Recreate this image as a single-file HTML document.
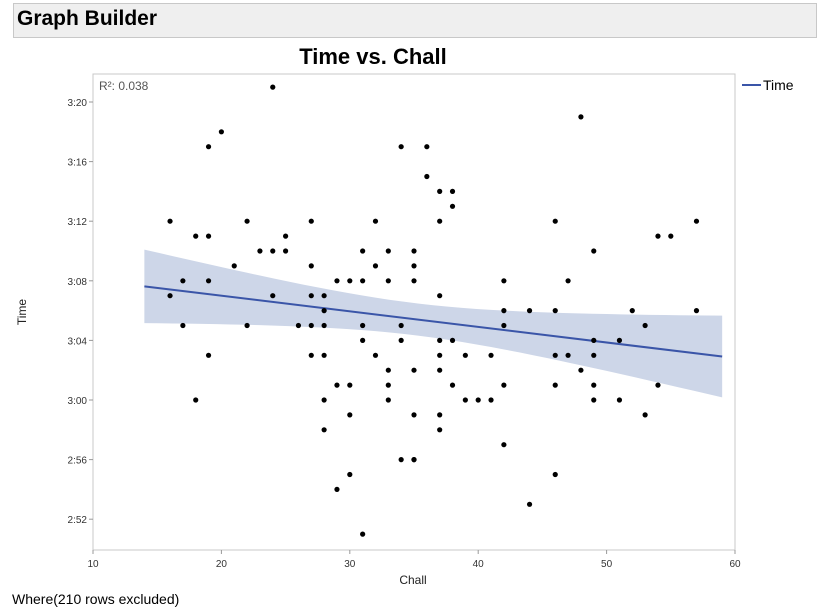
<!DOCTYPE html>
<html><head><meta charset="utf-8"><style>
body{margin:0;width:819px;height:613px;background:#fff;font-family:"Liberation Sans",sans-serif;overflow:hidden;position:relative}
.hdr{position:absolute;left:13px;top:3px;width:802px;height:33px;background:#efefef;border:1px solid #c8c8c8}
.hdr span{position:absolute;left:3px;top:3px;font-size:21px;font-weight:bold;color:#000}
.where{position:absolute;left:12px;top:591px;font-size:14px;color:#000}
</style></head><body>
<div class="hdr"><span>Graph Builder</span></div>
<svg id="chart" width="819" height="613" style="position:absolute;left:0;top:0"></svg>
<div class="where">Where(210 rows excluded)</div>
<script>
// x = Chall, y = seconds relative to 3:00
const challValues=[16,16,17,17,18,18,19,19,19,19,20,21,22,22,23,24,24,24,25,25,26,27,27,27,27,27,28,28,28,28,28,28,29,29,29,30,30,30,30,31,31,31,31,31,32,32,32,33,33,33,33,33,34,34,34,34,35,35,35,35,35,35,35,36,36,37,37,37,37,37,37,37,37,38,38,38,38,39,39,40,41,41,42,42,42,42,42,44,44,46,46,46,46,46,47,47,48,48,49,49,49,49,49,51,51,52,53,53,54,54,55,57,57];
const timeValues=[12,7,8,5,11,0,17,11,8,3,18,9,12,5,10,21,10,7,11,10,5,12,9,7,5,3,7,6,5,3,0,-2,8,1,-6,8,1,-1,-5,10,8,5,4,-9,12,9,3,10,8,2,1,0,17,5,4,-4,10,9,8,2,-1,-4,-4,17,15,14,12,7,4,3,2,-1,-2,14,13,4,1,3,0,0,3,0,8,6,5,1,-3,6,-7,12,6,3,1,-5,8,3,19,2,10,4,3,1,0,4,0,6,5,-1,11,1,11,12,6];
const yTickLabels=["2:52","2:56","3:00","3:04","3:08","3:12","3:16","3:20"];
const yTickValues=[-8,-4,0,4,8,12,16,20];
const xTickValues=[10,20,30,40,50,60];
const fitRange=[14,59];
const r2Label="0.038";

const svg=document.getElementById('chart');const NS='http://www.w3.org/2000/svg';
const L=93,R=735,T=74,B=550;
const X=v=>L+(v-10)/50*(R-L);
const Y=v=>400-v*14.9;
function mk(tag,attrs,parent){const e=document.createElementNS(NS,tag);for(const k in attrs)e.setAttribute(k,attrs[k]);(parent||svg).appendChild(e);return e;}
// title
let t=mk('text',{x:373,y:64,'text-anchor':'middle','font-size':22,'font-weight':'bold',fill:'#000'});t.textContent='Time vs. Chall';


let frame=mk('rect',{x:L,y:T,width:R-L,height:B-T,fill:'none',stroke:'#c8c8c8'});


// regression
const n=challValues.length;let mx=0,my=0;for(let i=0;i<n;i++){mx+=challValues[i];my+=timeValues[i];}mx/=n;my/=n;
let sxx=0,sxy=0;for(let i=0;i<n;i++){sxx+=(challValues[i]-mx)**2;sxy+=(challValues[i]-mx)*(timeValues[i]-my);}
const b=sxy/sxx,a=my-b*mx;let sse=0;for(let i=0;i<n;i++)sse+=(timeValues[i]-a-b*challValues[i])**2;
const s=Math.sqrt(sse/(n-2));const tv=1.98;
let up=[],lo=[];for(let k=0;k<=40;k++){const xv=fitRange[0]+(fitRange[1]-fitRange[0])*k/40;const yh=a+b*xv;const se=s*Math.sqrt(1/n+(xv-mx)**2/sxx);up.push(X(xv)+','+Y(yh+tv*se));lo.unshift(X(xv)+','+Y(yh-tv*se));}
let band=mk('polygon',{points:up.concat(lo).join(' '),fill:'#cdd6e8'});


let fl=mk('line',{x1:X(fitRange[0]),y1:Y(a+b*fitRange[0]),x2:X(fitRange[1]),y2:Y(a+b*fitRange[1]),stroke:'#3a55a8','stroke-width':2});


for(let i=0;i<n;i++){const c=mk('circle',{cx:X(challValues[i]),cy:Y(timeValues[i]),r:2.6,fill:'#000'});

}
// axes
yTickValues.forEach((v,i)=>{mk('line',{x1:L-4,x2:L,y1:Y(v),y2:Y(v),stroke:'#999'});const tx=mk('text',{x:L-6,y:Y(v)+4,'text-anchor':'end','font-size':10,fill:'#333'});tx.textContent=yTickLabels[i];

});
xTickValues.forEach(v=>{mk('line',{x1:X(v),x2:X(v),y1:B,y2:B+4,stroke:'#999'});const tx=mk('text',{x:X(v),y:567,'text-anchor':'middle','font-size':10,fill:'#333'});tx.textContent=v;

});
let xt=mk('text',{x:413,y:584,'text-anchor':'middle','font-size':12,fill:'#222'});xt.textContent='Chall';


let yt=mk('text',{x:26,y:312,'text-anchor':'middle','font-size':12,fill:'#222',transform:'rotate(-90 26 312)'});yt.textContent='Time';


let r2=mk('text',{x:99,y:90,'font-size':12,fill:'#555'});r2.textContent='R²: '+r2Label;


let lg=mk('g',{});


mk('line',{x1:742,x2:761,y1:85,y2:85,stroke:'#3a55a8','stroke-width':2},lg);
const lt=mk('text',{x:763,y:90,'font-size':14,fill:'#000'},lg);lt.textContent='Time';
</script>
</body></html>
